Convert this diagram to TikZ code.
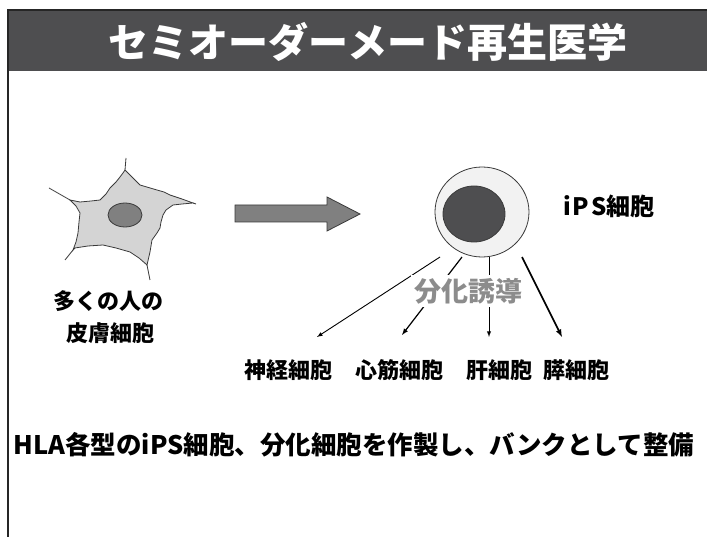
\documentclass[tikz,border=0pt]{standalone}
\usepackage{fontspec}
\newfontfamily\jp{Noto Sans CJK JP}
\usepackage{xcolor}
\usepackage{tikz}
\usetikzlibrary{arrows,calc,positioning}
\definecolor{bar}{HTML}{4E4E50}
\definecolor{edge}{HTML}{3A3A3A}
\newcommand{\fs}[1]{\fontsize{#1}{#1}\selectfont}

\begin{document}
\begin{tikzpicture}[x = 1pt, y = -1pt, >=latex]
	\tikzstyle{every node} = [font = \jp\bfseries, inner sep = 0pt]
\useasboundingbox (0,0) rectangle (707,537);

% title bar and frame
\fill[bar] (8,10) rectangle (707,71);
\draw[line width = 1.2pt, black!85] (7,10) -- (707,10);
\draw[line width = 2pt, black!85] (8,10) -- (8,537);
\node[text = white, font = \jp\bfseries\fs{40}] (0) at (368,42) {セミオーダーメード再生医学};

% skin cell
\path[draw = edge, fill = black!17, line width = 0.8pt] (125,170) -- (129,174) -- (133,178)
    -- (140,185) -- (157,190) -- (164,192) -- (170,195) -- (182,199) -- (193,203)
    -- (182,204) -- (173,205) -- (166,210) -- (163,215) -- (161,222) -- (160,228)
    -- (157,233) -- (152,240) -- (150,252) -- (147,265)
    -- (139,258) -- (130,252) -- (116,248) -- (103,245) -- (88,246) -- (75,248) -- (73,250)
    -- (76,242) -- (78,233) -- (79,222) -- (80,213) -- (76,206) -- (70,200)
    -- (75,201) -- (80,202) -- (91,201) -- (100,200) -- (106,194) -- (110,188)
    -- (116,182) -- (120,177) -- (123,173) -- cycle;
\draw[edge, line width = 0.8pt] (125,170) -- (126,158);
\draw[edge, line width = 0.8pt] (193,203) -- (196,204);
\draw[edge, line width = 0.8pt] (147,265) -- (150,280);
\draw[edge, line width = 0.8pt] (73,250) -- (65,260);
\draw[edge, line width = 0.8pt] (70,200) -- (49,188);
\draw[edge, fill = black!50, line width = 0.8pt] (125,215) ellipse [x radius = 17pt, y radius = 12pt];

% block arrow
\path[draw = edge, fill = black!50, line width = 0.8pt] (235,205) -- (327,205) -- (327,197)
    -- (360,214) -- (327,231) -- (327,222) -- (235,222) -- cycle;

% iPS cell
\draw[edge, fill = black!5, line width = 0.8pt] (482,212) ellipse [x radius = 47pt, y radius = 45pt];
\draw[edge, fill = bar, line width = 0.8pt] (474,214) ellipse [x radius = 31pt, y radius = 28pt];

\node[font = \jp\bfseries\fs{22}] (1) at (108,301) {多くの人の};
\node[font = \jp\bfseries\fs{22}] (2) at (110,333) {皮膚細胞};
\node[font = \jp\bfseries\fs{24}] (3) at (609,206) {i\kern2pt P\kern2pt S細胞};

\coordinate (a1) at (440,257);
\coordinate (a2) at (462,257);
\coordinate (a3) at (489,257);
\coordinate (a4) at (522,257);
\coordinate (b1) at (317,337);
\coordinate (b2) at (402,335);
\coordinate (b3) at (489,337);
\coordinate (b4) at (562,337);
	\path[draw, ->, line width = 0.9pt] (a1) -- (b1);
	\path[draw, ->, line width = 1.2pt] (a2) -- (b2);
	\path[draw, ->, line width = 0.9pt] (a3) -- (b3);
	\path[draw, ->, line width = 1.6pt] (a4) -- (b4);
\node[font = \jp\bfseries\fs{27}, text = black!45, fill = white, inner sep = 3pt] (4) at (468,291) {分化誘導};

\node[font = \jp\bfseries\fs{22}] (5) at (288,370) {神経細胞};
\node[font = \jp\bfseries\fs{22}] (6) at (399,370) {心筋細胞};
\node[font = \jp\bfseries\fs{22}] (7) at (499,370) {肝細胞};
\node[font = \jp\bfseries\fs{22}] (8) at (576,370) {膵細胞};

\node[font = \jp\bfseries\fs{25.5}] (9) at (354,445) {HLA各型のiPS細胞、分化細胞を作製し、バンクとして整備};
\end{tikzpicture}
\end{document}
